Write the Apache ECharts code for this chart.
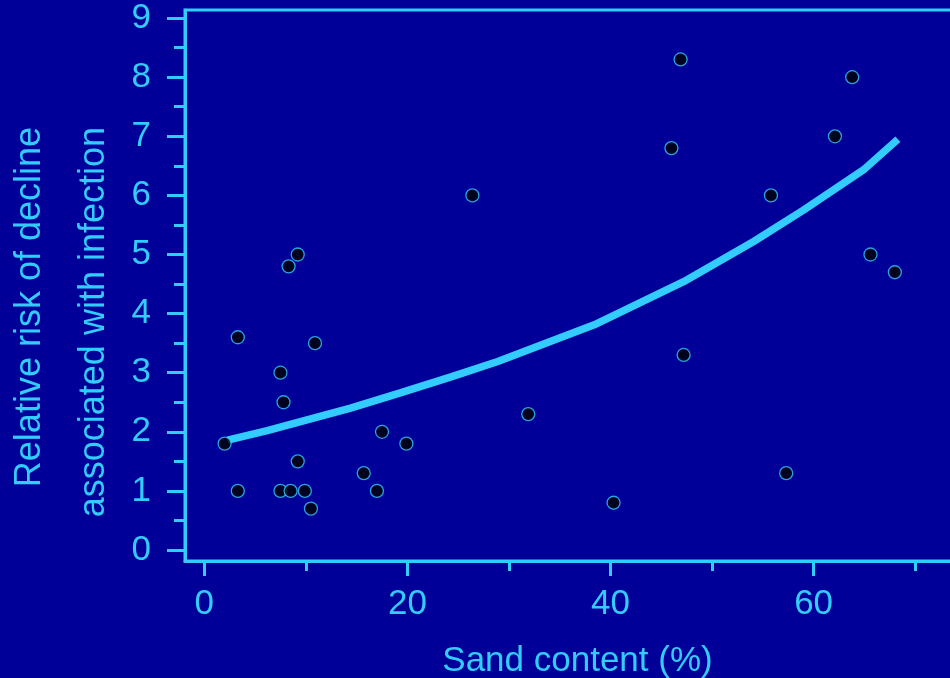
<!DOCTYPE html>
<html>
<head>
<meta charset="utf-8">
<script src="https://cdn.jsdelivr.net/npm/echarts@6/dist/echarts.min.js"></script>
<style>
  html, body { margin: 0; padding: 0; background: #000099; }
  #chart { width: 950px; height: 678px; }
</style>
</head>
<body>
<div id="chart"></div>
<script>
// sand content (%) of each site
const sandX = [2.0, 3.3, 3.3, 7.5, 7.8, 7.5, 8.5, 8.3, 9.2, 9.2, 9.9, 10.5, 10.9, 15.7, 17.0,
  17.5, 19.9, 26.4, 31.9, 40.3, 46.0, 46.9, 47.2, 55.8, 57.3, 62.1, 63.8, 65.6, 68.0];
// relative risk at each site
const riskY = [1.8, 3.6, 1.0, 3.0, 2.5, 1.0, 1.0, 4.8, 5.0, 1.5, 1.0, 0.7, 3.5, 1.3, 1.0,
  2.0, 1.8, 6.0, 2.3, 0.8, 6.8, 8.3, 3.3, 6.0, 1.3, 7.0, 8.0, 5.0, 4.7];

// fitted curve
const fitX = [2.3, 6.2, 14.4, 19.3, 24.3, 28.9, 38.4, 47.2, 54.1, 59.0, 64.9, 68.3];
const fitY = [1.86, 2.02, 2.40, 2.66, 2.93, 3.19, 3.81, 4.54, 5.22, 5.75, 6.43, 6.95];

// ticks
const xMajor = [0, 20, 40, 60];
const xMinor = [10, 30, 50, 70];
const yMajor = [0, 1, 2, 3, 4, 5, 6, 7, 8, 9];
const yMinor = [0.5, 1.5, 2.5, 3.5, 4.5, 5.5, 6.5, 7.5, 8.5];

const cyan = "#33ccff";
const font = "'Liberation Sans', Arial, sans-serif";

const chart = echarts.init(document.getElementById("chart"));

function xAxisOf(ticks, len, withLabels, withLine) {
  return {
    type: "value",
    position: "bottom",
    offset: 0,
    min: -1.9,
    max: 75.4,
    splitLine: { show: false },
    axisLine: { show: withLine, onZero: false, lineStyle: { color: cyan, width: 3 } },
    axisTick: { show: true, customValues: ticks, length: len, lineStyle: { color: cyan, width: 3 } },
    axisLabel: {
      show: withLabels,
      customValues: ticks,
      color: cyan,
      fontSize: 35,
      fontFamily: font,
      margin: 26,
    },
  };
}

function yAxisOf(ticks, len, withLabels, withLine) {
  return {
    type: "value",
    position: "left",
    offset: 0,
    min: -0.186,
    max: 9.137,
    splitLine: { show: false },
    axisLine: { show: withLine, onZero: false, lineStyle: { color: cyan, width: 3 } },
    axisTick: { show: true, customValues: ticks, length: len, lineStyle: { color: cyan, width: 3 } },
    axisLabel: {
      show: withLabels,
      customValues: ticks,
      color: cyan,
      fontSize: 35,
      fontFamily: font,
      margin: 34,
      padding: [4, 0, 0, 0],
    },
  };
}

const xMain = xAxisOf(xMajor, 15, true, true);
xMain.name = "Sand content (%)";
xMain.nameLocation = "middle";
xMain.nameGap = 83;
xMain.nameTextStyle = { color: cyan, fontSize: 35, fontFamily: font };

const option = {
  backgroundColor: "#000099",
  animation: false,
  grid: {
    left: 185,
    right: -20,
    top: 10,
    bottom: 117,
    outerBoundsMode: "none",
    containLabel: false,
    show: true,
    borderColor: cyan,
    borderWidth: 3,
    backgroundColor: "transparent",
  },
  xAxis: [xMain, xAxisOf(xMinor, 10, false, false)],
  yAxis: [yAxisOf(yMajor, 18, true, true), yAxisOf(yMinor, 11, false, false)],
  graphic: [
    {
      type: "text",
      x: 62,
      y: 127,
      rotation: Math.PI / 2,
      style: {
        text: "Relative risk of decline\nassociated with infection",
        fill: cyan,
        font: "36px " + font,
        align: "right",
        verticalAlign: "middle",
        lineHeight: 64,
      },
    },
  ],
  series: [
    {
      type: "line",
      data: fitX.map((x, i) => [x, fitY[i]]),
      showSymbol: false,
      smooth: false,
      lineStyle: { color: cyan, width: 7.5, cap: "butt" },
      z: 2,
    },
    {
      type: "scatter",
      data: sandX.map((x, i) => [x, riskY[i]]),
      symbol: "circle",
      symbolSize: 13,
      itemStyle: { color: "#000000", borderColor: cyan, borderWidth: 1.3 },
      z: 3,
    },
  ],
};

chart.setOption(option);
</script>
</body>
</html>
